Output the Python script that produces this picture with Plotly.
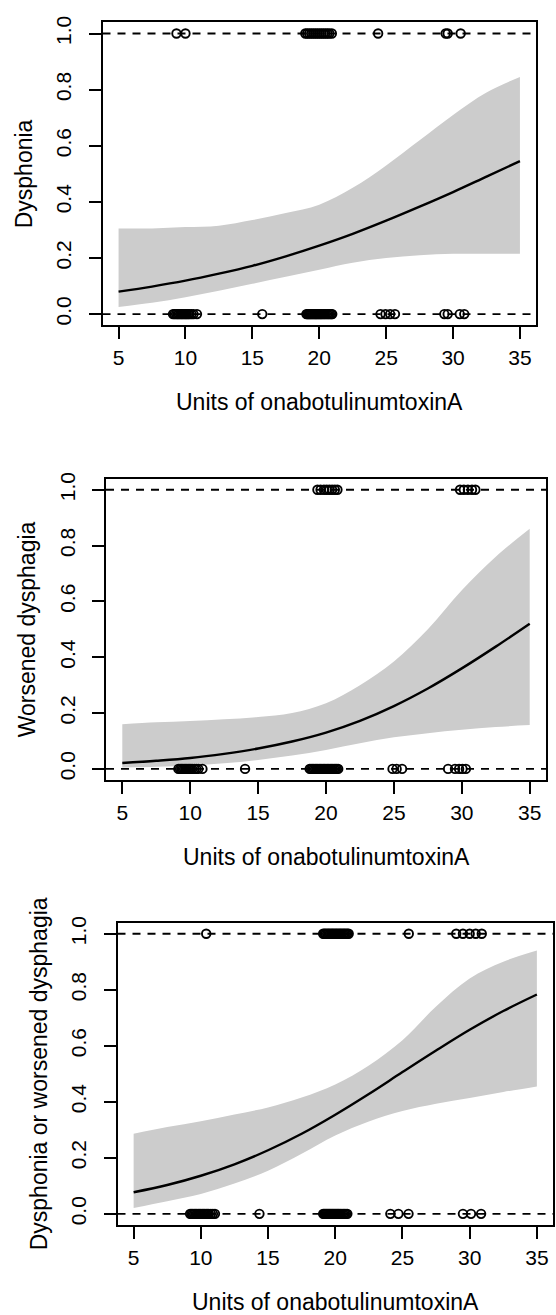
import plotly.graph_objects as go

# ---------------- data ----------------
dose_grid = [5, 7.5, 10, 12.5, 15, 17.5, 20, 22.5, 25, 27.5, 30, 32.5, 35]
x_ticks = [5, 10, 15, 20, 25, 30, 35]
y_ticks = [0.0, 0.2, 0.4, 0.6, 0.8, 1.0]
y_tick_text = ["0.0", "0.2", "0.4", "0.6", "0.8", "1.0"]
x_title = "Units of onabotulinumtoxinA"

# Panel 1: Dysphonia
dys_fit = [0.080, 0.098, 0.119, 0.144, 0.172, 0.206, 0.244, 0.286, 0.333, 0.383, 0.435, 0.490, 0.545]
dys_lo = [0.025, 0.040, 0.060, 0.083, 0.108, 0.133, 0.158, 0.183, 0.200, 0.210, 0.215, 0.215, 0.215]
dys_hi = [0.305, 0.305, 0.310, 0.315, 0.335, 0.360, 0.390, 0.450, 0.530, 0.620, 0.710, 0.790, 0.845]
dys_yes = [9.33, 10.0,
           18.96, 19.1, 19.25, 19.4, 19.55, 19.7, 19.85, 20.0, 20.15, 20.3, 20.45, 20.6, 20.75, 20.94,
           24.4, 29.45, 29.6, 30.57]
dys_no = [9.07, 9.18, 9.3, 9.4, 9.5, 9.6, 9.7, 9.8, 9.9, 10.0, 10.1, 10.2, 10.3, 10.45, 10.6, 10.86,
          15.74,
          19.04, 19.12, 19.2, 19.28, 19.36, 19.45, 19.53, 19.62, 19.7, 19.78, 19.86, 19.95, 20.03, 20.12,
          20.2, 20.3, 20.4, 20.5, 20.6, 20.7, 20.8, 20.9, 20.97,
          24.58, 24.95, 25.3, 25.66, 29.35, 29.6, 30.5, 30.84]

# Panel 2: Worsened dysphagia
wd_fit = [0.021, 0.029, 0.039, 0.054, 0.073, 0.098, 0.130, 0.172, 0.225, 0.288, 0.360, 0.438, 0.520]
wd_lo = [0.005, 0.008, 0.012, 0.020, 0.032, 0.048, 0.068, 0.092, 0.113, 0.128, 0.140, 0.150, 0.157]
wd_hi = [0.160, 0.167, 0.172, 0.178, 0.186, 0.200, 0.235, 0.300, 0.385, 0.500, 0.640, 0.760, 0.860]
wd_yes = [19.37, 19.6, 19.85, 20.05, 20.25, 20.45, 20.65, 20.84, 29.87, 30.15, 30.45, 30.75, 31.0]
wd_no = [9.13, 9.25, 9.35, 9.45, 9.55, 9.65, 9.75, 9.85, 9.95, 10.05, 10.15, 10.3, 10.45, 10.6, 10.9,
         14.04,
         18.8, 18.9, 19.0, 19.1, 19.2, 19.3, 19.4, 19.5, 19.6, 19.7, 19.8, 19.9, 20.0, 20.1, 20.2,
         20.3, 20.4, 20.5, 20.6, 20.7, 20.8, 20.9,
         24.9, 25.2, 25.6, 28.99, 29.5, 29.8, 30.05, 30.3]

# Panel 3: Dysphonia or worsened dysphagia
any_fit = [0.077, 0.103, 0.136, 0.177, 0.227, 0.286, 0.354, 0.428, 0.506, 0.583, 0.657, 0.724, 0.783]
any_lo = [0.021, 0.045, 0.071, 0.108, 0.154, 0.215, 0.280, 0.330, 0.367, 0.393, 0.414, 0.435, 0.455]
any_hi = [0.286, 0.310, 0.331, 0.355, 0.380, 0.415, 0.462, 0.530, 0.620, 0.740, 0.840, 0.900, 0.940]
any_yes = [10.4,
           19.1, 19.2, 19.3, 19.4, 19.5, 19.6, 19.7, 19.8, 19.9, 20.0, 20.1, 20.2, 20.3, 20.4, 20.5,
           20.6, 20.7, 20.8, 20.9, 21.0,
           25.47, 29.0, 29.5, 30.0, 30.45, 30.9]
any_no = [9.2, 9.3, 9.4, 9.5, 9.6, 9.7, 9.8, 9.9, 10.0, 10.1, 10.2, 10.3, 10.4, 10.5, 10.6, 10.75, 10.9, 11.05,
          14.36,
          19.1, 19.18, 19.26, 19.34, 19.42, 19.5, 19.58, 19.66, 19.74, 19.82, 19.9, 19.98, 20.06, 20.14,
          20.22, 20.3, 20.4, 20.5, 20.6, 20.7, 20.8, 20.9,
          24.1, 24.7, 25.45, 29.5, 30.1, 30.85]

panels_data = [
    ("Dysphonia", dys_fit, dys_lo, dys_hi, dys_yes, dys_no),
    ("Worsened dysphagia", wd_fit, wd_lo, wd_hi, wd_yes, wd_no),
    ("Dysphonia or worsened dysphagia", any_fit, any_lo, any_hi, any_yes, any_no),
]

# ---------------- layout (pixels) ----------------
W, H = 556, 1315
boxes = [
    dict(left=102.5, right=536.0, top=15.4, bottom=320.0),
    dict(left=106.0, right=546.0, top=474.1, bottom=777.2),
    dict(left=117.5, right=553.0, top=920.4, bottom=1224.6),
]
FONT = "Liberation Sans, Arial, Helvetica, sans-serif"
TICK_SIZE = 21
TITLE_SIZE = 23
XR = [3.8, 36.2]
YR = [-0.04, 1.04]

fig = go.Figure()
layout = dict(
    width=W, height=H,
    margin=dict(l=0, r=0, t=0, b=0),
    paper_bgcolor="white", plot_bgcolor="white",
    showlegend=False,
    font=dict(family=FONT, color="black"),
)
annotations = []
shapes = []
marker_style = dict(symbol="circle-open", size=8.5, color="black", line=dict(width=1.9, color="black"))

for i, ((ylab, fit, lo, hi, yes, no), b) in enumerate(zip(panels_data, boxes)):
    n = i + 1
    xa = "x" if n == 1 else f"x{n}"
    ya = "y" if n == 1 else f"y{n}"
    xkey = "xaxis" if n == 1 else f"xaxis{n}"
    ykey = "yaxis" if n == 1 else f"yaxis{n}"

    # confidence band
    fig.add_trace(go.Scatter(x=dose_grid, y=lo, mode="lines", line=dict(width=0, shape="spline", color="#CCCCCC"),
                             xaxis=xa, yaxis=ya, hoverinfo="skip"))
    fig.add_trace(go.Scatter(x=dose_grid, y=hi, mode="lines", line=dict(width=0, shape="spline", color="#CCCCCC"),
                             fill="tonexty", fillcolor="#CCCCCC", xaxis=xa, yaxis=ya, hoverinfo="skip"))
    # fitted curve
    fig.add_trace(go.Scatter(x=dose_grid, y=fit, mode="lines", line=dict(width=2.4, shape="spline", color="black"),
                             xaxis=xa, yaxis=ya))
    # dashed reference lines at 0 and 1
    for yv in (0, 1):
        shapes.append(dict(type="line", xref=f"{xa} domain", yref=ya, x0=0, x1=1, y0=yv, y1=yv,
                           line=dict(color="black", width=1.9, dash="8px,7px"), layer="above"))
    # observed outcomes
    fig.add_trace(go.Scatter(x=yes, y=[1] * len(yes), mode="markers", marker=marker_style,
                             xaxis=xa, yaxis=ya, cliponaxis=False))
    fig.add_trace(go.Scatter(x=no, y=[0] * len(no), mode="markers", marker=marker_style,
                             xaxis=xa, yaxis=ya, cliponaxis=False))

    layout[xkey] = dict(
        domain=[b["left"] / W, b["right"] / W], range=XR, anchor=ya,
        showgrid=False, zeroline=False, showline=True, mirror=True, linecolor="black", linewidth=1.8,
        ticks="outside", ticklen=12, tickwidth=1.8, tickcolor="black",
        tickvals=x_ticks, ticktext=[str(v) for v in x_ticks],
        tickfont=dict(family=FONT, size=TICK_SIZE, color="black"), ticklabelstandoff=1,
    )
    layout[ykey] = dict(
        domain=[1 - b["bottom"] / H, 1 - b["top"] / H], range=YR, anchor=xa,
        showgrid=False, zeroline=False, showline=True, mirror=True, linecolor="black", linewidth=1.8,
        ticks="outside", ticklen=12, tickwidth=1.8, tickcolor="black",
        tickvals=y_ticks, ticktext=y_tick_text, tickangle=-90,
        tickfont=dict(family=FONT, size=TICK_SIZE, color="black"), ticklabelstandoff=9,
    )
    # axis titles
    annotations.append(dict(text=x_title, xref="paper", yref="paper",
                            x=(b["left"] + b["right"]) / 2 / W, y=1 - (b["bottom"] + 77) / H,
                            xanchor="center", yanchor="middle", showarrow=False,
                            font=dict(family=FONT, size=TITLE_SIZE, color="black")))
    annotations.append(dict(text=ylab, xref="paper", yref="paper",
                            x=(b["left"] - 79) / W, y=1 - (b["top"] + b["bottom"]) / 2 / H,
                            xanchor="center", yanchor="middle", textangle=-90, showarrow=False,
                            font=dict(family=FONT, size=TITLE_SIZE, color="black")))

layout["annotations"] = annotations
layout["shapes"] = shapes
fig.update_layout(**layout)
fig.write_html("out.html", config={"displayModeBar": False},
               post_script="document.body.style.margin='0px';document.body.style.overflow='hidden';")
